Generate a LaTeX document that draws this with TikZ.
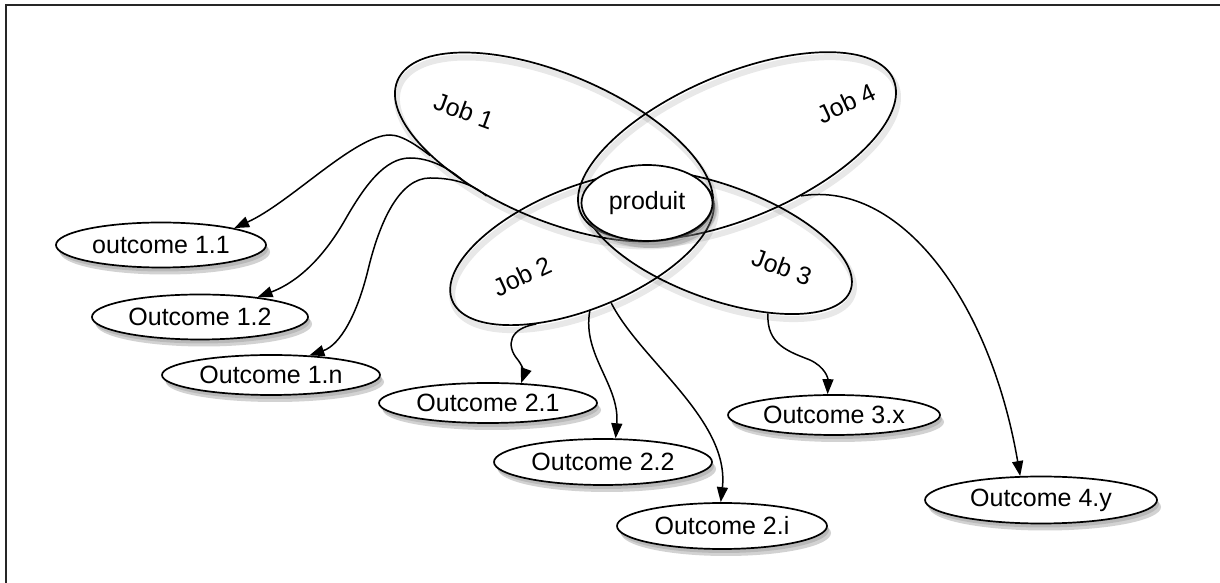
\documentclass[tikz,border=0pt]{standalone}
\usepackage{fontspec}
\setmainfont{Liberation Sans}
\usetikzlibrary{shapes.geometric,shadows,arrows.meta}
\begin{document}
\begin{tikzpicture}[x=1pt,y=1pt,
  jobell/.style={draw, ellipse, line width=1.7pt, inner sep=0pt,
    general shadow={draw=black, draw opacity=0.09, line width=6pt, shadow xshift=2pt, shadow yshift=-5pt}},
  joblbl/.style={font=\fontsize{25}{30}\selectfont, inner sep=0pt},
  soft/.style={drop shadow={opacity=0.3, shadow xshift=2pt, shadow yshift=-4pt},
    drop shadow={opacity=0.35, shadow xshift=4pt, shadow yshift=-7pt}},
  outc/.style={draw, ellipse, fill=white, line width=1.7pt, inner sep=0pt,
    font=\fontsize{25}{30}\selectfont, soft},
  arr/.style={line width=1.5pt, -{Triangle[length=15pt,width=11pt]}}
]
\useasboundingbox (0,0) rectangle (1220,583);
\fill[white] (0,0) rectangle (1220,583);
\draw[line width=2pt, black!85] (6,0) -- (6,578) -- (1220,578);

% job ellipses
\node[jobell, minimum width=340pt, minimum height=146pt, rotate=-23] (job1) at (554,436) {};
\node[jobell, minimum width=340pt, minimum height=144pt, rotate=23] (job4) at (737,437) {};
\node[jobell, minimum width=280pt, minimum height=122pt, rotate=22] (job2) at (582,335) {};
\node[jobell, minimum width=282pt, minimum height=114pt, rotate=-20] (job3) at (718,341) {};

% job labels
\node[joblbl, rotate=-20] (l1) at (464,472) {Job 1};
\node[joblbl, rotate=25] (l4) at (846,480) {Job 4};
\node[joblbl, rotate=25] (l2) at (522,307) {Job 2};
\node[joblbl, rotate=-20] (l3) at (782,316) {Job 3};

% outcomes
\node[outc, minimum width=210pt, minimum height=45pt] (o11) at (161,338) {outcome 1.1};
\node[outc, minimum width=216pt, minimum height=45pt] (o12) at (200,266) {Outcome 1.2};
\node[outc, minimum width=218pt, minimum height=40pt] (o1n) at (271,208) {Outcome 1.n};
\node[outc, minimum width=218pt, minimum height=40pt] (o21) at (488,180) {Outcome 2.1};
\node[outc, minimum width=218pt, minimum height=46pt] (o22) at (603,121) {Outcome 2.2};
\node[outc, minimum width=210pt, minimum height=46pt] (o2i) at (722,57) {Outcome 2.i};
\node[outc, minimum width=212pt, minimum height=40pt] (o3x) at (834,168) {Outcome 3.x};
\node[outc, minimum width=232pt, minimum height=47pt] (o4y) at (1041,83) {Outcome 4.y};

% connectors
\draw[arr] (job1.207) .. controls (420,435) and (403,448) .. (390,448)
  .. controls (355,448) and (290,380) .. (o11.13);
\draw[arr] (job1.226) .. controls (450,415) and (430,425) .. (410,425)
  .. controls (385,425) and (365,398) .. (345,363)
  .. controls (318,316) and (290,298) .. (o12.19);
\draw[arr] (job1.239) .. controls (470,401) and (450,405) .. (430,405)
  .. controls (400,405) and (380,363) .. (368,313)
  .. controls (357,268) and (340,238) .. (o1n.27);
\draw[arr] (job2.217) .. controls (510,255) and (505,238) .. (518,223)
  .. controls (524,215) and (524,208) .. (o21.31);
\draw[arr] (job2.255) .. controls (582,228) and (620,198) .. (o22.62);
\draw[arr] (job2.276) .. controls (640,223) and (730,163) .. (o2i.93);
\draw[arr] (job3.325) .. controls (766,238) and (790,231) .. (810,223)
  .. controls (825,216) and (828,205) .. (o3x.107);
\draw[arr] (job4.299) .. controls (900,403) and (990,283) .. (o4y.131);

% produit on top
\node[draw, ellipse, fill=white, line width=1.7pt, minimum width=131pt, minimum height=76pt,
  inner sep=0pt, font=\fontsize{25}{30}\selectfont, soft] (prod) at (647,380) {produit};
\end{tikzpicture}
\end{document}
